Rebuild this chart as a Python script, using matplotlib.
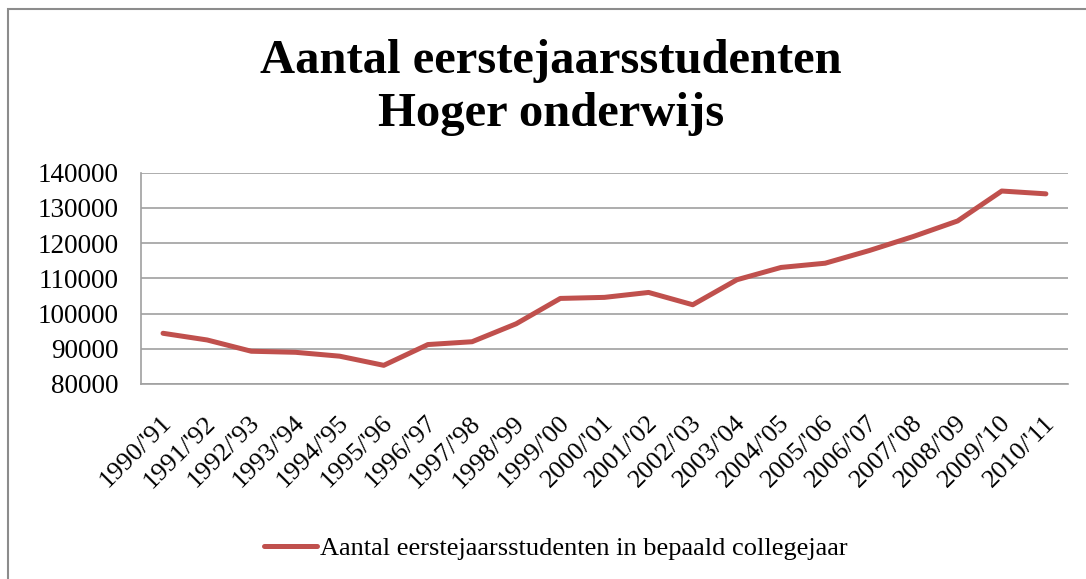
import matplotlib
matplotlib.use("Agg")
import matplotlib.pyplot as plt
import matplotlib.transforms as mtransforms
from matplotlib.patches import Rectangle

# collegejaren en aantallen
jaren = ["1990/'91", "1991/'92", "1992/'93", "1993/'94", "1994/'95", "1995/'96",
         "1996/'97", "1997/'98", "1998/'99", "1999/'00", "2000/'01", "2001/'02",
         "2002/'03", "2003/'04", "2004/'05", "2005/'06", "2006/'07", "2007/'08",
         "2008/'09", "2009/'10", "2010/'11"]
aantal = [94400, 92500, 89300, 89000, 87900, 85300, 91200, 92000, 97100, 104300,
          104600, 106000, 102500, 109600, 113100, 114300, 117900, 121900, 126300,
          134800, 134000]
y_ticks = [80000, 90000, 100000, 110000, 120000, 130000, 140000]

titel = "Aantal eerstejaarsstudenten\nHoger onderwijs"
legenda = "Aantal eerstejaarsstudenten in bepaald collegejaar"

plt.rcParams['font.family'] = ['Liberation Serif', 'DejaVu Serif']

fig = plt.figure(figsize=(10.86, 5.79), dpi=100)
ax = fig.add_axes([0.1298, 0.3368, 0.9834 - 0.1298, 0.7017 - 0.3368])

x = list(range(len(jaren)))
ax.plot(x, aantal, color='#C0504D', linewidth=3.6, solid_capstyle='round',
        solid_joinstyle='round', label=legenda, zorder=3)

ax.set_xlim(-0.5, len(jaren) - 0.5)
ax.set_ylim(80000, 140000)
ax.set_yticks(y_ticks)
ax.set_yticklabels([str(v) for v in y_ticks], fontsize=19.5)
ax.set_xticks(x)
ax.set_xticklabels(jaren, fontsize=19, rotation=45, ha='right')

ax.grid(axis='y', color='#A0A0A0', linewidth=1.2)
ax.set_axisbelow(True)
for s in ['top', 'right']:
    ax.spines[s].set_visible(False)
for s in ['left', 'bottom']:
    ax.spines[s].set_color('#A0A0A0')
    ax.spines[s].set_linewidth(1.2)
ax.tick_params(axis='both', length=0)
ax.tick_params(axis='y', pad=16)
ax.tick_params(axis='x', pad=20)

# labels iets naar rechts schuiven
offset = mtransforms.ScaledTranslation(13 / 100, 0, fig.dpi_scale_trans)
for lbl in ax.get_xticklabels():
    lbl.set_transform(lbl.get_transform() + offset)

fig.text(551 / 1086, 1 - 39 / 579, titel, ha='center', va='top',
         fontsize=35, fontweight='bold', linespacing=1.27)

fig.legend(loc='center', bbox_to_anchor=(556 / 1086, 1 - 548 / 579), frameon=False,
           fontsize=19, handlelength=2.0, handletextpad=0.1)

# kader rond de grafiek
fig.patches.append(Rectangle((8 / 1086, -0.05), 1.2, 1 - 9 / 579 + 0.05,
                             transform=fig.transFigure, fill=False,
                             edgecolor='#8C8C8C', linewidth=1.5))

fig.savefig("out.png", dpi=100)
